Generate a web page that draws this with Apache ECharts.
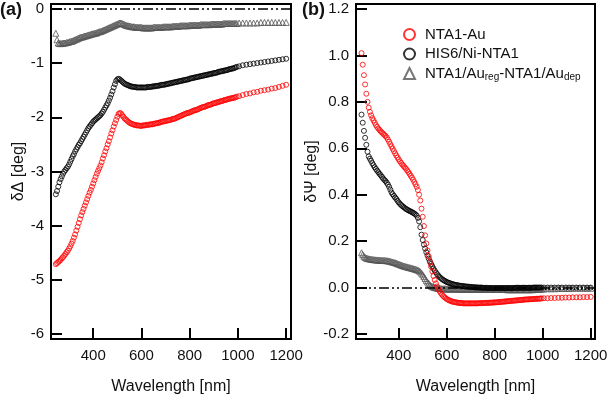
<!DOCTYPE html>
<html>
<head>
<meta charset="utf-8">
<script src="https://cdn.jsdelivr.net/npm/echarts@6/dist/echarts.min.js"></script>
<style>
  html, body { margin: 0; padding: 0; background: #fff; }
  #main { width: 609px; height: 397px; }
</style>
</head>
<body>
<div id="main"></div>
<script>
// wavelength grid [nm] (5 nm up to 995, coarser above 1000)
var wl = [
  245,250,255,260,265,270,275,280,285,290,
  295,300,305,310,315,320,325,330,335,340,
  345,350,355,360,365,370,375,380,385,390,
  395,400,405,410,415,420,425,430,435,440,
  445,450,455,460,465,470,475,480,485,490,
  495,500,505,510,515,520,525,530,535,540,
  545,550,555,560,565,570,575,580,585,590,
  595,600,605,610,615,620,625,630,635,640,
  645,650,655,660,665,670,675,680,685,690,
  695,700,705,710,715,720,725,730,735,740,
  745,750,755,760,765,770,775,780,785,790,
  795,800,805,810,815,820,825,830,835,840,
  845,850,855,860,865,870,875,880,885,890,
  895,900,905,910,915,920,925,930,935,940,
  945,950,955,960,965,970,975,980,985,990,
  995,1005,1020,1035,1050,1065,1080,1095,1110,1125,
  1140,1155,1170,1185,1200
];

// (a) delta Delta [deg]
var dDeltaNTA = [
  -4.71,-4.69,-4.67,-4.65,-4.63,-4.60,-4.58,-4.55,-4.52,-4.49,
  -4.46,-4.42,-4.38,-4.33,-4.28,-4.22,-4.16,-4.09,-4.02,-3.95,
  -3.88,-3.81,-3.75,-3.69,-3.63,-3.57,-3.51,-3.45,-3.39,-3.34,
  -3.28,-3.22,-3.16,-3.10,-3.04,-2.99,-2.94,-2.89,-2.83,-2.76,
  -2.70,-2.63,-2.57,-2.50,-2.44,-2.37,-2.30,-2.24,-2.17,-2.11,
  -2.05,-1.99,-1.94,-1.92,-1.93,-1.96,-1.99,-2.02,-2.04,-2.06,
  -2.08,-2.10,-2.11,-2.12,-2.13,-2.14,-2.14,-2.15,-2.15,-2.15,
  -2.16,-2.16,-2.15,-2.15,-2.15,-2.14,-2.14,-2.14,-2.13,-2.13,
  -2.13,-2.12,-2.12,-2.11,-2.11,-2.10,-2.10,-2.09,-2.08,-2.08,
  -2.07,-2.07,-2.06,-2.06,-2.05,-2.05,-2.04,-2.03,-2.03,-2.02,
  -2.01,-2.00,-1.99,-1.98,-1.97,-1.96,-1.95,-1.94,-1.93,-1.92,
  -1.92,-1.91,-1.90,-1.89,-1.88,-1.87,-1.87,-1.86,-1.85,-1.84,
  -1.83,-1.82,-1.81,-1.81,-1.80,-1.79,-1.78,-1.77,-1.77,-1.76,
  -1.75,-1.74,-1.74,-1.73,-1.72,-1.72,-1.71,-1.70,-1.70,-1.69,
  -1.68,-1.68,-1.67,-1.66,-1.66,-1.65,-1.65,-1.64,-1.64,-1.63,
  -1.62,-1.61,-1.59,-1.57,-1.56,-1.54,-1.53,-1.51,-1.50,-1.49,
  -1.47,-1.46,-1.44,-1.42,-1.40
];
var dDeltaHIS = [
  -3.42,-3.36,-3.28,-3.20,-3.14,-3.09,-3.04,-3.00,-2.97,-2.94,
  -2.91,-2.87,-2.82,-2.77,-2.72,-2.68,-2.63,-2.59,-2.55,-2.51,
  -2.48,-2.44,-2.40,-2.36,-2.32,-2.28,-2.24,-2.20,-2.17,-2.14,
  -2.11,-2.08,-2.06,-2.04,-2.02,-2.00,-1.98,-1.96,-1.93,-1.90,
  -1.86,-1.82,-1.78,-1.74,-1.69,-1.64,-1.58,-1.52,-1.45,-1.39,
  -1.33,-1.30,-1.29,-1.30,-1.32,-1.34,-1.36,-1.38,-1.39,-1.40,
  -1.41,-1.42,-1.43,-1.43,-1.44,-1.44,-1.44,-1.45,-1.45,-1.45,
  -1.45,-1.45,-1.45,-1.45,-1.45,-1.45,-1.44,-1.44,-1.44,-1.44,
  -1.43,-1.43,-1.43,-1.42,-1.42,-1.42,-1.41,-1.41,-1.40,-1.40,
  -1.40,-1.39,-1.39,-1.38,-1.38,-1.37,-1.37,-1.36,-1.36,-1.35,
  -1.35,-1.34,-1.34,-1.33,-1.33,-1.32,-1.32,-1.31,-1.31,-1.30,
  -1.30,-1.29,-1.28,-1.28,-1.27,-1.27,-1.26,-1.26,-1.25,-1.25,
  -1.24,-1.24,-1.23,-1.23,-1.22,-1.22,-1.21,-1.21,-1.20,-1.20,
  -1.19,-1.19,-1.18,-1.18,-1.17,-1.16,-1.16,-1.15,-1.15,-1.14,
  -1.14,-1.13,-1.13,-1.12,-1.11,-1.11,-1.10,-1.10,-1.09,-1.08,
  -1.07,-1.06,-1.04,-1.03,-1.02,-1.01,-1.00,-0.99,-0.98,-0.97,
  -0.96,-0.95,-0.94,-0.93,-0.92
];
var dDeltaDiff = [
  -0.45,-0.57,-0.63,-0.64,-0.64,-0.64,-0.63,-0.63,-0.63,-0.62,
  -0.62,-0.61,-0.60,-0.60,-0.59,-0.58,-0.57,-0.56,-0.55,-0.54,
  -0.53,-0.52,-0.52,-0.51,-0.50,-0.50,-0.49,-0.48,-0.48,-0.47,
  -0.46,-0.46,-0.45,-0.45,-0.44,-0.43,-0.42,-0.42,-0.41,-0.40,
  -0.39,-0.38,-0.37,-0.36,-0.35,-0.34,-0.33,-0.32,-0.31,-0.30,
  -0.29,-0.28,-0.27,-0.26,-0.26,-0.27,-0.28,-0.29,-0.30,-0.31,
  -0.31,-0.32,-0.32,-0.33,-0.33,-0.33,-0.34,-0.34,-0.34,-0.34,
  -0.34,-0.34,-0.35,-0.35,-0.35,-0.35,-0.35,-0.35,-0.35,-0.35,
  -0.35,-0.34,-0.34,-0.34,-0.34,-0.34,-0.34,-0.34,-0.34,-0.33,
  -0.33,-0.33,-0.33,-0.33,-0.33,-0.33,-0.33,-0.32,-0.32,-0.32,
  -0.32,-0.32,-0.32,-0.31,-0.31,-0.31,-0.31,-0.31,-0.31,-0.31,
  -0.31,-0.30,-0.30,-0.30,-0.30,-0.30,-0.30,-0.30,-0.30,-0.30,
  -0.29,-0.29,-0.29,-0.29,-0.29,-0.29,-0.29,-0.29,-0.29,-0.28,
  -0.28,-0.28,-0.28,-0.28,-0.28,-0.28,-0.28,-0.28,-0.28,-0.27,
  -0.27,-0.27,-0.27,-0.27,-0.27,-0.27,-0.27,-0.27,-0.27,-0.27,
  -0.27,-0.26,-0.26,-0.26,-0.26,-0.26,-0.26,-0.25,-0.25,-0.25,
  -0.25,-0.25,-0.25,-0.25,-0.25
];

// (b) delta Psi [deg]
var dPsiNTA = [
  1.01,0.96,0.915,0.875,0.835,0.80,0.775,0.757,0.742,0.73,
  0.72,0.71,0.70,0.692,0.685,0.679,0.673,0.668,0.663,0.658,
  0.653,0.647,0.638,0.628,0.618,0.608,0.598,0.588,0.578,0.569,
  0.56,0.552,0.544,0.537,0.53,0.524,0.518,0.512,0.505,0.498,
  0.49,0.482,0.474,0.465,0.455,0.445,0.434,0.42,0.40,0.375,
  0.34,0.305,0.265,0.225,0.19,0.16,0.135,0.11,0.09,0.07,
  0.05,0.033,0.018,0.005,-0.006,-0.015,-0.023,-0.03,-0.036,-0.041,
  -0.045,-0.049,-0.052,-0.055,-0.057,-0.059,-0.061,-0.062,-0.063,-0.064,
  -0.065,-0.066,-0.066,-0.067,-0.067,-0.068,-0.068,-0.068,-0.068,-0.068,
  -0.068,-0.068,-0.068,-0.068,-0.068,-0.068,-0.068,-0.068,-0.067,-0.067,
  -0.067,-0.067,-0.067,-0.066,-0.066,-0.066,-0.066,-0.065,-0.065,-0.065,
  -0.064,-0.064,-0.064,-0.063,-0.063,-0.062,-0.062,-0.061,-0.061,-0.06,
  -0.06,-0.059,-0.059,-0.058,-0.058,-0.057,-0.057,-0.056,-0.056,-0.055,
  -0.055,-0.054,-0.054,-0.053,-0.053,-0.052,-0.052,-0.051,-0.051,-0.051,
  -0.05,-0.05,-0.05,-0.049,-0.049,-0.049,-0.048,-0.048,-0.048,-0.047,
  -0.047,-0.046,-0.046,-0.045,-0.045,-0.044,-0.044,-0.043,-0.043,-0.042,
  -0.042,-0.042,-0.041,-0.041,-0.04
];
var dPsiHIS = [
  0.745,0.71,0.675,0.645,0.615,0.585,0.565,0.555,0.546,0.536,
  0.527,0.518,0.511,0.504,0.497,0.49,0.484,0.477,0.47,0.464,
  0.459,0.452,0.444,0.434,0.422,0.41,0.402,0.395,0.388,0.382,
  0.374,0.367,0.361,0.356,0.351,0.347,0.343,0.339,0.336,0.333,
  0.330,0.328,0.325,0.322,0.319,0.315,0.31,0.30,0.285,0.26,
  0.228,0.205,0.185,0.168,0.152,0.138,0.125,0.113,0.102,0.092,
  0.082,0.073,0.065,0.058,0.052,0.046,0.041,0.037,0.033,0.03,
  0.027,0.024,0.022,0.02,0.018,0.016,0.015,0.013,0.012,0.011,
  0.010,0.009,0.008,0.007,0.007,0.006,0.005,0.005,0.004,0.004,
  0.003,0.003,0.002,0.002,0.001,0.001,0.001,0.000,0.000,0.000,
  0.000,-0.001,-0.001,-0.001,-0.001,-0.002,-0.002,-0.002,-0.002,-0.002,
  -0.002,-0.002,-0.002,-0.002,-0.002,-0.002,-0.002,-0.002,-0.002,-0.002,
  -0.002,-0.002,-0.002,-0.002,-0.002,-0.002,-0.002,-0.002,-0.001,-0.001,
  -0.001,-0.001,-0.001,-0.001,-0.001,-0.001,-0.001,-0.001,-0.001,-0.001,
  -0.001,-0.001,-0.001,0.000,0.000,0.000,0.000,0.000,0.000,0.000,
  0.000,0.000,0.000,0.000,0.000,0.000,0.000,0.000,0.000,0.000,
  0.000,0.000,0.000,0.000,0.000
];
var dPsiDiff = [
  0.15,0.142,0.135,0.13,0.127,0.125,0.124,0.123,0.122,0.121,
  0.12,0.12,0.119,0.119,0.118,0.118,0.118,0.117,0.117,0.117,
  0.116,0.116,0.115,0.114,0.113,0.111,0.11,0.108,0.107,0.105,
  0.103,0.101,0.099,0.097,0.095,0.093,0.092,0.09,0.089,0.087,
  0.086,0.085,0.083,0.082,0.08,0.079,0.077,0.075,0.072,0.068,
  0.062,0.055,0.047,0.039,0.031,0.024,0.018,0.012,0.007,0.004,
  0.002,0.0,-0.001,-0.002,-0.003,-0.004,-0.004,-0.005,-0.005,-0.005,
  -0.005,-0.006,-0.006,-0.006,-0.006,-0.006,-0.006,-0.006,-0.006,-0.006,
  -0.006,-0.006,-0.007,-0.007,-0.007,-0.007,-0.007,-0.007,-0.007,-0.007,
  -0.007,-0.007,-0.007,-0.007,-0.007,-0.007,-0.007,-0.007,-0.007,-0.007,
  -0.007,-0.007,-0.008,-0.008,-0.008,-0.008,-0.008,-0.008,-0.008,-0.008,
  -0.008,-0.008,-0.008,-0.008,-0.008,-0.008,-0.008,-0.008,-0.008,-0.008,
  -0.008,-0.009,-0.009,-0.009,-0.009,-0.009,-0.009,-0.009,-0.009,-0.009,
  -0.009,-0.009,-0.009,-0.009,-0.009,-0.009,-0.009,-0.009,-0.009,-0.009,
  -0.009,-0.009,-0.009,-0.009,-0.008,-0.008,-0.008,-0.008,-0.008,-0.007,
  -0.007,-0.006,-0.005,-0.005,-0.005,-0.004,-0.004,-0.004,-0.004,-0.003,
  -0.003,-0.003,-0.003,-0.003,-0.003
];

// tick labels
var xTicks = [400, 600, 800, 1000, 1200];
var yTicksA = [-6, -5, -4, -3, -2, -1, 0];
var yTicksB = [-0.2, 0.0, 0.2, 0.4, 0.6, 0.8, 1.0, 1.2];

var names = ['NTA1-Au', 'HIS6/Ni-NTA1', 'NTA1/Au(reg)-NTA1/Au(dep)'];

var FONT = 'Liberation Sans, Arial, sans-serif';
var dashDot = [10, 3, 2, 3, 2, 3];

// [wl, value] pairs
function pairs(vals) {
  var res = [];
  for (var i = 0; i < wl.length; i++) {
    res.push([wl[i], vals[i]]);
  }
  return res;
}

function xAxisOf(idx, min, max) {
  return {
    type: 'value', gridIndex: idx, min: min, max: max,
    name: 'Wavelength [nm]', nameLocation: 'middle', nameGap: 40,
    nameTextStyle: { fontFamily: FONT, fontSize: 16, color: '#111' },
    axisLine: { show: true, onZero: false, lineStyle: { color: '#000', width: 2 } },
    axisTick: { show: true, inside: true, length: 11, customValues: xTicks,
      lineStyle: { color: '#000', width: 2 } },
    axisLabel: { customValues: xTicks, margin: 9, fontFamily: FONT, fontSize: 15, color: '#111',
      formatter: function (v) { return String(v); } },
    splitLine: { show: false }
  };
}

function yAxisOf(idx, min, max, ticks, name, gap, fmt) {
  return {
    type: 'value', gridIndex: idx, min: min, max: max,
    name: name, nameLocation: 'middle', nameGap: gap, nameRotate: 90,
    nameTextStyle: { fontFamily: FONT, fontSize: 16, color: '#111' },
    axisLine: { show: true, onZero: false, lineStyle: { color: '#000', width: 2 } },
    axisTick: { show: true, inside: true, length: 11, customValues: ticks,
      lineStyle: { color: '#000', width: 2 } },
    axisLabel: { customValues: ticks, margin: 7, fontFamily: FONT, fontSize: 15, color: '#111',
      formatter: fmt },
    splitLine: { show: false }
  };
}

// one marker series, hollow symbols
function dots(name, idx, vals, color, symbol, size) {
  return {
    name: name, type: 'scatter', xAxisIndex: idx, yAxisIndex: idx,
    symbol: symbol, symbolSize: size,
    itemStyle: { color: 'rgba(0,0,0,0)', borderColor: color, borderWidth: 1 },
    data: pairs(vals)
  };
}

// zero reference line (dash-dot-dot)
function zeroLine() {
  return {
    silent: true, symbol: 'none', label: { show: false },
    lineStyle: { color: '#000', width: 1.5, type: dashDot },
    data: [{ yAxis: 0 }]
  };
}

var chart = echarts.init(document.getElementById('main'));

var grayA = dots(names[2], 0, dDeltaDiff, '#555', 'triangle', 6);
grayA.markLine = zeroLine();
var grayB = dots(names[2], 1, dPsiDiff, '#555', 'triangle', 6);
grayB.markLine = zeroLine();

var option = {
  animation: false,
  backgroundColor: '#fff',
  grid: [
    { left: 51, top: 4, width: 240, height: 335, outerBoundsMode: 'none',
      show: true, borderColor: '#000', borderWidth: 2 },
    { left: 356, top: 4, width: 239, height: 335, outerBoundsMode: 'none',
      show: true, borderColor: '#000', borderWidth: 2 }
  ],
  xAxis: [xAxisOf(0, 225, 1220), xAxisOf(1, 222, 1218)],
  yAxis: [
    yAxisOf(0, -6.09, 0.09, yTicksA, 'δΔ [deg]', 22, function (v) { return String(v); }),
    yAxisOf(1, -0.2215, 1.2215, yTicksB, 'δΨ [deg]', 36, function (v) { return v.toFixed(1); })
  ],
  legend: {
    data: names,
    orient: 'vertical',
    left: 398, top: 21,
    itemWidth: 11, itemHeight: 11, itemGap: 2.5,
    textStyle: {
      fontFamily: FONT, fontSize: 15, color: '#111', lineHeight: 17, padding: [0, 0, 0, 5],
      rich: {
        n: { fontFamily: FONT, fontSize: 15, color: '#111', lineHeight: 17 },
        s: { fontFamily: FONT, fontSize: 10, color: '#111', lineHeight: 5, verticalAlign: 'bottom' }
      }
    },
    formatter: function (name) {
      if (name === names[2]) return '{n|NTA1/Au}{s|reg}{n|-NTA1/Au}{s|dep}';
      return name;
    }
  },
  graphic: [
    { type: 'text', left: 0, top: 1, style: { text: '(a)', font: 'bold 18px ' + FONT, fill: '#111' } },
    { type: 'text', left: 302, top: 1, style: { text: '(b)', font: 'bold 18px ' + FONT, fill: '#111' } }
  ],
  series: [
    grayA,
    dots(names[1], 0, dDeltaHIS, '#000', 'circle', 5),
    dots(names[0], 0, dDeltaNTA, '#ff0000', 'circle', 5),
    grayB,
    dots(names[1], 1, dPsiHIS, '#000', 'circle', 5),
    dots(names[0], 1, dPsiNTA, '#ff0000', 'circle', 5)
  ]
};

chart.setOption(option);
</script>
</body>
</html>
